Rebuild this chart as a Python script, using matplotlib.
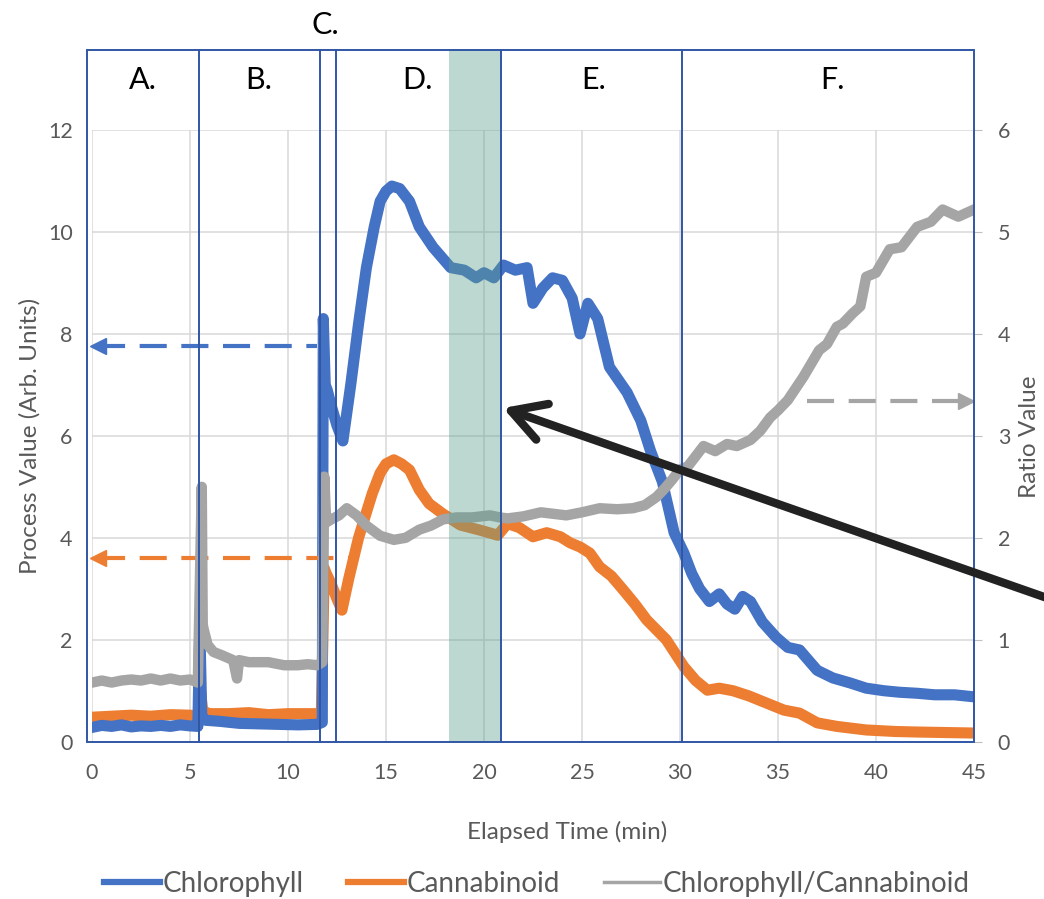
import matplotlib
matplotlib.use("Agg")
import matplotlib.pyplot as plt
from matplotlib.lines import Line2D
from matplotlib.patches import Rectangle

plt.rcParams['font.family'] = ['Lato', 'DejaVu Sans']

# Chlorophyll (left axis)
blue_t = [0, 0.5, 1, 1.5, 2, 2.5, 3, 3.5, 4, 4.5,
          5, 5.4, 5.5, 5.6, 5.8, 6.5, 7.5, 8.5, 9.5, 10.5,
          11.5, 11.75, 11.8, 11.9, 12.0, 12.2, 12.5, 12.8, 13.2, 13.6,
          14.0, 14.4, 14.7, 15.0, 15.3, 15.7, 16.2, 16.7, 17.4, 18.3,
          19.0, 19.6, 20.0, 20.5, 21.0, 21.6, 22.2, 22.5, 23.0, 23.5,
          24.0, 24.5, 24.9, 25.3, 25.8, 26.4, 27.3, 28.0, 28.5, 29.1,
          29.7, 30.2, 30.6, 31.0, 31.5, 32.0, 32.4, 32.8, 33.2, 33.6,
          34.2, 34.9, 35.5, 36.1, 37.0, 37.8, 38.7, 39.5, 40.4, 41.2,
          42.1, 43.0, 44.0, 45]
blue_v = [0.28, 0.32, 0.3, 0.33, 0.29, 0.31, 0.3, 0.32, 0.3, 0.33,
          0.31, 0.3, 2.3, 0.5, 0.42, 0.4, 0.36, 0.35, 0.34, 0.33,
          0.34, 0.38, 8.3, 7.0, 6.9, 6.6, 6.2, 5.9, 7.0, 8.2,
          9.3, 10.1, 10.6, 10.8, 10.9, 10.85, 10.6, 10.1, 9.7, 9.3,
          9.25, 9.1, 9.2, 9.1, 9.35, 9.25, 9.3, 8.6, 8.9, 9.1,
          9.05, 8.7, 8.0, 8.6, 8.3, 7.35, 6.85, 6.3, 5.7, 5.1,
          4.1, 3.7, 3.3, 3.0, 2.75, 2.9, 2.7, 2.6, 2.85, 2.75,
          2.35, 2.05, 1.85, 1.8, 1.4, 1.25, 1.15, 1.05, 1.0, 0.97,
          0.95, 0.92, 0.92, 0.88]

# Cannabinoid (left axis)
orange_t = [0, 1, 2, 3, 4, 5, 5.45, 5.55, 5.65, 6.0,
            7, 8, 9, 10, 11, 11.7, 11.85, 11.95, 12.2, 12.5,
            12.75, 13.1, 13.6, 14.0, 14.3, 14.7, 15.0, 15.4, 15.8, 16.2,
            16.7, 17.2, 17.9, 18.8, 19.8, 20.7, 21.2, 21.8, 22.5, 23.2,
            23.9, 24.4, 24.9, 25.4, 25.9, 26.5, 27.1, 27.7, 28.3, 29.3,
            30.2, 30.8, 31.4, 32.0, 32.7, 33.5, 34.4, 35.3, 36.1, 37.0,
            38.0, 39.5, 41.0, 42.1, 43.5, 45]
orange_v = [0.48, 0.5, 0.52, 0.5, 0.53, 0.52, 0.5, 0.95, 0.6, 0.55,
            0.55, 0.57, 0.53, 0.55, 0.55, 0.55, 3.4, 3.3, 3.1, 2.8,
            2.58, 3.2, 4.0, 4.5, 4.87, 5.27, 5.45, 5.53, 5.45, 5.33,
            4.94, 4.67, 4.47, 4.25, 4.15, 4.05, 4.28, 4.2, 4.02, 4.1,
            4.02, 3.9, 3.82, 3.7, 3.43, 3.25, 2.98, 2.7, 2.39, 2.0,
            1.47, 1.2, 1.01, 1.05, 1.0, 0.9, 0.76, 0.62, 0.56, 0.37,
            0.3, 0.23, 0.2, 0.19, 0.18, 0.17]

# Chlorophyll/Cannabinoid ratio (right axis)
gray_t = [0, 0.5, 1, 1.5, 2, 2.5, 3, 3.5, 4, 4.5,
          5, 5.4, 5.6, 5.65, 5.7, 5.9, 6.2, 6.6, 7.2, 7.4,
          7.5, 8.0, 9.0, 9.8, 10.5, 11.0, 11.5, 11.75, 11.85, 11.95,
          12.2, 12.6, 13.0, 13.5, 14.0, 14.7, 15.4, 16.0, 16.7, 17.3,
          17.9, 18.6, 19.4, 20.3, 20.8, 21.2, 22.0, 22.9, 24.2, 25.0,
          25.9, 26.8, 27.6, 28.2, 28.8, 29.2, 29.6, 30.0, 30.4, 30.8,
          31.2, 31.8, 32.4, 32.9, 33.6, 34.1, 34.6, 35.0, 35.5, 36.3,
          37.1, 37.5, 38.0, 38.3, 38.8, 39.2, 39.5, 40.0, 40.7, 41.3,
          42.1, 42.8, 43.4, 44.2, 45]
gray_v = [0.58, 0.6, 0.58, 0.6, 0.61, 0.6, 0.62, 0.6, 0.62, 0.6,
          0.61, 0.58, 2.5, 1.15, 1.1, 0.95, 0.88, 0.85, 0.8, 0.62,
          0.8, 0.78, 0.78, 0.75, 0.75, 0.76, 0.75, 0.78, 2.6, 2.15,
          2.18, 2.22, 2.29, 2.22, 2.12, 2.02, 1.98, 2.0, 2.08, 2.12,
          2.18, 2.2, 2.2, 2.22, 2.2, 2.19, 2.21, 2.25, 2.22, 2.25,
          2.29, 2.28, 2.29, 2.32, 2.4, 2.48, 2.57, 2.67, 2.7, 2.8,
          2.9, 2.85, 2.92, 2.9, 2.96, 3.05, 3.18, 3.25, 3.35, 3.58,
          3.84, 3.9, 4.07, 4.1, 4.2, 4.27, 4.56, 4.6, 4.83, 4.85,
          5.05, 5.1, 5.22, 5.15, 5.22]

# process sections
section_edges = [5.45, 11.63, 12.45, 20.87, 30.1]
section_labels = ["A.", "B.", "C.", "D.", "E.", "F."]
section_label_x = [2.6, 8.5, 11.9, 16.6, 25.6, 37.8]
band = (18.23, 20.87)

# dashed reference arrows
blue_ref = 7.76
orange_ref = 3.6
gray_ref = 3.34

c_blue = '#4472C4'
c_orange = '#ED7D31'
c_gray = '#A5A5A5'
c_box = '#3056A5'
c_text = '#595959'

fig = plt.figure(figsize=(10.44, 8.99), dpi=100)
ax = fig.add_axes([92 / 1044, 1 - 741.7 / 899, 882 / 1044, 611.7 / 899])
ax2 = ax.twinx()

ax.set_xlim(0, 45)
ax.set_ylim(0, 12)
ax2.set_ylim(0, 6)
ax.set_xticks(range(0, 46, 5))
ax.set_yticks(range(0, 13, 2))
ax2.set_yticks(range(0, 7))
ax.grid(color='#d9d9d9', lw=1.1)
ax.set_axisbelow(True)
for a in (ax, ax2):
    for s in a.spines.values():
        s.set_visible(False)
ax.tick_params(axis='both', length=0, labelsize=15.5, labelcolor=c_text)
ax.tick_params(axis='y', pad=14)
ax.tick_params(axis='x', pad=15)
ax2.tick_params(axis='y', length=6, color='#bfbfbf', labelsize=15.5, labelcolor=c_text, pad=11)

ax.plot(blue_t, blue_v, color=c_blue, lw=8, solid_joinstyle='round', zorder=3)
ax.plot(orange_t, orange_v, color=c_orange, lw=8, solid_joinstyle='round', zorder=2)
ax2.plot(gray_t, gray_v, color=c_gray, lw=7.5, solid_joinstyle='round', zorder=2)

# dashed arrows
ax.plot([0.3, 11.5], [blue_ref, blue_ref], color=c_blue, lw=3, dashes=[6.5, 3.5], zorder=4)
ax.plot([0.3], [blue_ref], marker='<', ms=12, color=c_blue, clip_on=False, zorder=4)
ax.plot([0.3, 13.3], [orange_ref, orange_ref], color=c_orange, lw=3, dashes=[6.5, 3.5], zorder=4)
ax.plot([0.3], [orange_ref], marker='<', ms=12, color=c_orange, clip_on=False, zorder=4)
ax2.plot([36.5, 44.6], [gray_ref, gray_ref], color=c_gray, lw=3, dashes=[6.5, 3.5], zorder=4)
ax2.plot([44.6], [gray_ref], marker='>', ms=12, color=c_gray, clip_on=False, zorder=4)

# box, sections and highlighted band
top = 13.57 / 12
tr = ax2.get_xaxis_transform()
ax2.add_patch(Rectangle((-0.26, 0), 45.26, top, transform=tr, fill=False,
                        ec=c_box, lw=1.4, clip_on=False, zorder=6))
for x in section_edges:
    ax2.plot([x, x], [0, top], transform=tr, color=c_box, lw=1.4, clip_on=False, zorder=6)
ax2.add_patch(Rectangle((band[0], 0), band[1] - band[0], top, transform=tr,
                        color='#5b9e8a', alpha=0.4, lw=0, clip_on=False, zorder=5))
for lab, x in zip(section_labels, section_label_x):
    y = 14.06 / 12 if lab == "C." else 12.98 / 12
    ax2.text(x, y, lab, transform=tr, ha='center', va='center', fontsize=22, color='black')

# black pointer arrow
ax2.annotate('', xy=(503, 899 - 408), xycoords='figure pixels',
             xytext=(1070, 899 - 606), textcoords='figure pixels',
             arrowprops=dict(arrowstyle='->,head_length=0.6,head_width=0.34',
                             mutation_scale=40, lw=6, color='#222222',
                             shrinkA=0, shrinkB=0),
             annotation_clip=False, zorder=7)

fig.text(30 / 1044, 1 - 436 / 899, "Process Value (Arb. Units)", rotation=90,
         ha='center', va='center', fontsize=17.5, color=c_text)
fig.text(1030 / 1044, 1 - 437 / 899, "Ratio Value", rotation=90,
         ha='center', va='center', fontsize=17.5, color=c_text)
fig.text(567 / 1044, 1 - 832 / 899, "Elapsed Time (min)",
         ha='center', va='center', fontsize=17.5, color=c_text)

handles = [Line2D([], [], color=c_blue, lw=4.5),
           Line2D([], [], color=c_orange, lw=4.5),
           Line2D([], [], color=c_gray, lw=2.5)]
leg = fig.legend(handles, ["Chlorophyll", "Cannabinoid", "Chlorophyll/Cannabinoid"],
                 loc='center', bbox_to_anchor=(537 / 1044, 1 - 884 / 899), ncol=3,
                 frameon=False, fontsize=20, handlelength=2.0, handletextpad=0.1,
                 columnspacing=1.6)
for t in leg.get_texts():
    t.set_color(c_text)

fig.savefig("out.png", dpi=100)
